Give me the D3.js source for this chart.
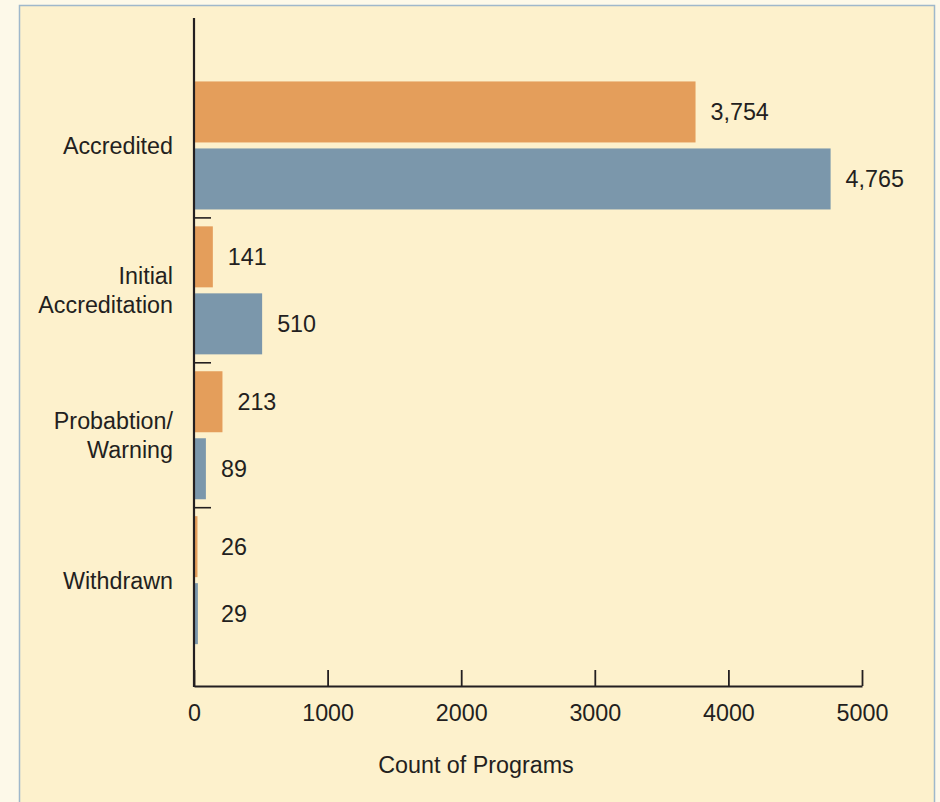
<!DOCTYPE html>
<html>
<head>
<meta charset="utf-8">
<script src="https://cdn.jsdelivr.net/npm/d3@7"></script>
<style>
  html, body { margin: 0; padding: 0; background: #fdf9e9; }
  svg { display: block; font-family: "Liberation Sans", Arial, Helvetica, sans-serif; }
</style>
</head>
<body>
<script>
var categories = ["Accredited", "Initial\nAccreditation", "Probabtion/\nWarning", "Withdrawn"];
var seriesNames = ["first", "second"];
var firstValues = [3754, 141, 213, 26];
var secondValues = [4765, 510, 89, 29];
var xTicks = [0, 1000, 2000, 3000, 4000, 5000];
var xTitle = "Count of Programs";

var width = 940;
var height = 802;
var colors = {first: "#e49e5b", second: "#7b97ab"};
var ink = "#231f20";

var rows = categories.map(function(c, i) {
  return {cat: c, first: firstValues[i], second: secondValues[i]};
});

var svg = d3.select("body").append("svg").attr("width", width).attr("height", height);

// panel
svg.append("rect")
  .attr("x", 19.5).attr("y", 5.5)
  .attr("width", 915).attr("height", 820)
  .attr("fill", "#fdf1cc")
  .attr("stroke", "#9fb8cb")
  .attr("stroke-width", 1.5);

var xScale = d3.scaleLinear()
  .domain([0, 5000])
  .range([194, 862]);

var yScale = d3.scaleBand()
  .domain(categories)
  .range([73, 652.6])
  .paddingInner(0)
  .paddingOuter(0);

var ySub = d3.scaleBand()
  .domain(seriesNames)
  .range([0, yScale.bandwidth()])
  .paddingInner(0.0896)
  .paddingOuter(0.126);

var axisY = 686;
var fontSize = 23.3;

// bars
var groups = svg.append("g")
  .selectAll("g")
  .data(rows)
  .enter()
  .append("g")
  .attr("transform", function(d) { return "translate(0," + yScale(d.cat) + ")"; });

groups.selectAll("rect")
  .data(function(d) { return seriesNames.map(function(s) { return {key: s, value: d[s]}; }); })
  .enter()
  .append("rect")
  .attr("x", xScale(0))
  .attr("y", function(d) { return ySub(d.key); })
  .attr("width", function(d) { return xScale(d.value) - xScale(0); })
  .attr("height", ySub.bandwidth())
  .attr("fill", function(d) { return colors[d.key]; });

groups.selectAll("text")
  .data(function(d) { return seriesNames.map(function(s) { return {key: s, value: d[s]}; }); })
  .enter()
  .append("text")
  .attr("x", function(d) { return Math.max(xScale(d.value) + 15, xScale(0) + 27); })
  .attr("y", function(d) { return ySub(d.key) + ySub.bandwidth() / 2; })
  .attr("dy", "0.36em")
  .attr("font-size", fontSize)
  .attr("fill", ink)
  .text(function(d) { return d3.format(",")(d.value); });

// x axis
var axisx = d3.axisBottom(xScale)
  .tickValues(xTicks)
  .tickFormat(d3.format("d"))
  .tickSizeInner(-16)
  .tickSizeOuter(0)
  .tickPadding(18);

var gx = svg.append("g")
  .attr("transform", "translate(0," + axisY + ")")
  .call(axisx);
gx.select(".domain").attr("stroke", ink).attr("stroke-width", 2);
gx.selectAll(".tick line").attr("stroke", ink).attr("stroke-width", 1.8);
gx.selectAll(".tick text")
  .attr("font-size", fontSize)
  .attr("font-family", "Liberation Sans, Arial, sans-serif")
  .attr("fill", ink);

// y axis line
svg.append("line")
  .attr("x1", xScale(0)).attr("x2", xScale(0))
  .attr("y1", 18).attr("y2", axisY + 1)
  .attr("stroke", ink)
  .attr("stroke-width", 2.2);

// category separators
svg.append("g")
  .selectAll("line")
  .data(categories.slice(1))
  .enter()
  .append("line")
  .attr("x1", xScale(0)).attr("x2", xScale(0) + 17)
  .attr("y1", function(d) { return yScale(d); })
  .attr("y2", function(d) { return yScale(d); })
  .attr("stroke", ink)
  .attr("stroke-width", 1.6);

// category labels
var lineH = 29;
svg.append("g")
  .selectAll("text")
  .data(categories)
  .enter()
  .append("text")
  .attr("text-anchor", "end")
  .attr("font-size", fontSize)
  .attr("fill", ink)
  .each(function(d) {
    var lines = d.split("\n");
    var cy = yScale(d) + yScale.bandwidth() / 2;
    var t = d3.select(this);
    lines.forEach(function(l, i) {
      t.append("tspan")
        .attr("x", 173)
        .attr("y", cy + (i - (lines.length - 1) / 2) * lineH)
        .attr("dy", "0.36em")
        .text(l);
    });
  });

// axis title
svg.append("text")
  .attr("x", 476)
  .attr("y", 773)
  .attr("text-anchor", "middle")
  .attr("font-size", fontSize)
  .attr("fill", ink)
  .text(xTitle);
</script>
</body>
</html>
